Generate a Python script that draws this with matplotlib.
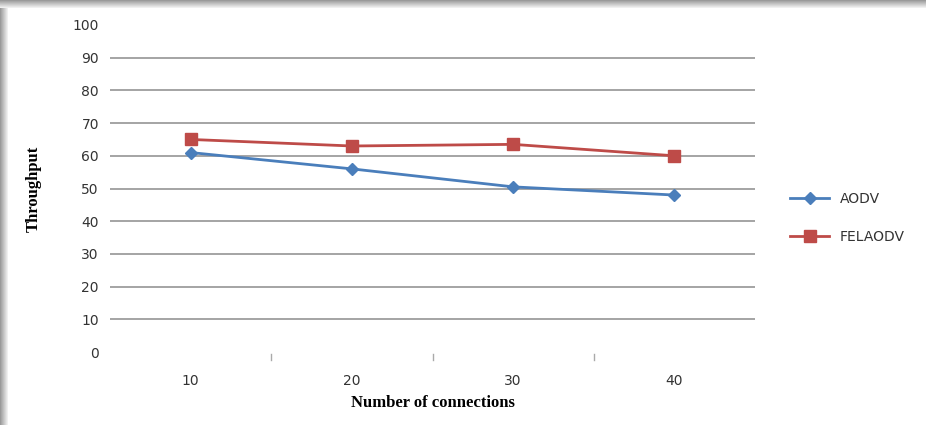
import matplotlib
matplotlib.use("Agg")
import matplotlib.pyplot as plt
from matplotlib.patches import Rectangle
import numpy as np

categories = ["10", "20", "30", "40"]
aodv = [61, 56, 50.5, 48]
felaodv = [65, 63, 63.5, 60]
yticks = [0, 10, 20, 30, 40, 50, 60, 70, 80, 90, 100]

W, H = 926, 425
fig = plt.figure(figsize=(W / 100, H / 100), dpi=100)
fig.patch.set_facecolor("white")

# shadow bands on top and left edges
for i, c in enumerate(["#9a9a9a", "#a8a8a8", "#b4b4b4", "#c0c0c0", "#cccccc", "#d8d8d8", "#e4e4e4", "#f0f0f0"]):
    fig.patches.append(Rectangle((0, 1 - (i + 1) / H), 1, 1 / H, transform=fig.transFigure,
                                 facecolor=c, edgecolor="none", zorder=0))
    fig.patches.append(Rectangle((i / W, 0), 1 / W, 1 - 8 / H, transform=fig.transFigure,
                                 facecolor=c, edgecolor="none", zorder=0))

ax = fig.add_axes([110 / W, 1 - 352 / H, (755 - 110) / W, (352 - 25) / H])
x = np.arange(len(categories))
ax.set_xlim(-0.5, len(categories) - 0.5)
ax.set_ylim(0, 100)
ax.set_yticks(yticks)
ax.set_yticklabels([str(v) for v in yticks], fontsize=10, color="#333333", family="DejaVu Sans")
ax.set_xticks(x)
ax.set_xticklabels(categories, fontsize=10, color="#333333", family="DejaVu Sans")
ax.tick_params(axis="y", length=0, pad=8)
ax.tick_params(axis="x", length=0, pad=16)
for v in yticks[1:-1]:
    ax.axhline(v, color="#8c8c8c", lw=1.1, zorder=1)
for s in ax.spines.values():
    s.set_visible(False)
# small category boundary ticks
for b in [0.5, 1.5, 2.5]:
    ax.plot([b, b], [-0.6, -2.4], color="#aaaaaa", lw=1, clip_on=False)

ax.plot(x, aodv, color="#4a7ebb", lw=2, marker="D", markersize=6, label="AODV", zorder=3)
ax.plot(x, felaodv, color="#be4b48", lw=2, marker="s", markersize=9, label="FELAODV", zorder=3)

ax.set_ylabel("Throughput", family="Liberation Serif", fontweight="bold", fontsize=12, labelpad=22)
ax.set_xlabel("Number of connections", family="Liberation Serif", fontweight="bold", fontsize=12, labelpad=5)

leg = ax.legend(loc="center left", bbox_to_anchor=(1.035, 0.41), frameon=False, fontsize=10,
                handlelength=2.8, labelspacing=1.7, labelcolor="#333333")

fig.savefig("out.png", dpi=100)
